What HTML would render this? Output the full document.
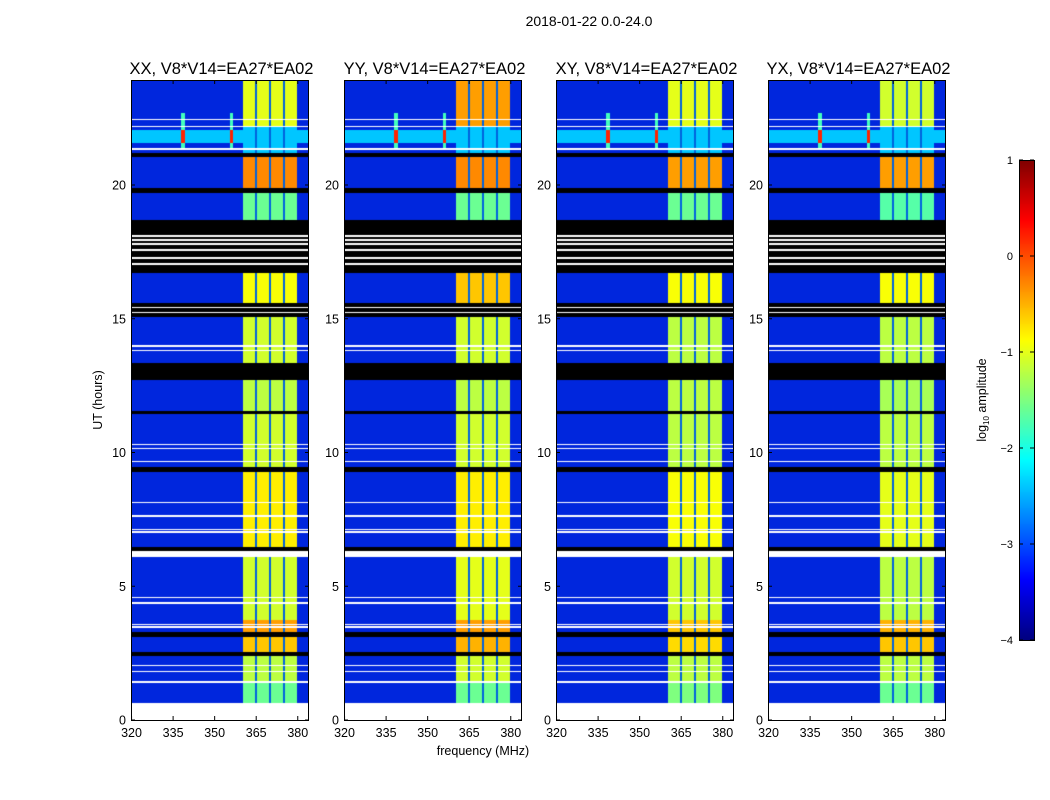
<!DOCTYPE html>
<html><head><meta charset="utf-8"><style>
body{margin:0;background:#fff;width:1050px;height:800px;overflow:hidden;font-family:"Liberation Sans",sans-serif}
#root{position:relative;width:1050px;height:800px}
canvas{position:absolute}
svg{position:absolute;left:0;top:0}
</style></head><body>
<div id="root">
<svg id="ov" width="1050" height="800"></svg>
</div>
<script>
// ---- data ----
const panelNames=["XX","YY","XY","YX"];
const freqTicks=[320,335,350,365,380];
const timeTicks=[0,5,10,15,20];
const cbTicks=[1,0,-1,-2,-3,-4];
// data segments: start hour, end hour
const segStart=[0.64,1.45,2.55,3.3,3.75,6.45,9.45,11.55,13.35,15.6,18.7,19.9,21.2,22.2];
const segEnd  =[1.4,2.4,3.1,3.75,6.1,9.27,11.45,12.7,15.07,16.7,19.7,21.05,22.15,23.93];
// band log-amplitude per segment for each panel
const bandXX=[-1.6,-1.2,-0.6,-0.4,-1.1,-0.8,-1.1,-1.2,-1.1,-0.9,-1.6,-0.3,-2.4,-1.0];
const bandYY=[-1.6,-1.1,-0.5,-0.4,-1.0,-0.8,-1.1,-1.2,-1.1,-0.6,-1.6,-0.3,-2.4,-0.4];
const bandXY=[-1.5,-1.2,-0.7,-0.6,-1.1,-0.9,-1.2,-1.2,-1.2,-0.9,-1.6,-0.4,-2.4,-1.0];
const bandYX=[-1.6,-1.2,-0.6,-0.5,-1.2,-1.0,-1.2,-1.3,-1.2,-0.9,-1.7,-0.4,-2.4,-1.1];
const bandLevels=[bandXX,bandYY,bandXY,bandYX];
const bgLevel=-3.15;
const rfiRowStart=21.57, rfiRowEnd=22.05, rfiRowLevel=-2.4;
const rfiFreqs=[338.6,356];
const subBandEdges=[360.3,365,370,375,379.6];
const whiteStart=[0,1.4,6.1,7.0,7.1,7.6,8.1,9.64,10.13,10.28,4.35,4.55,13.8,13.95,22.15,22.43,21.3,17.0,17.25,17.55,17.75,17.9,18.05,15.2,15.4,3.45,3.55,2.0,1.8];
const whiteEnd  =[0.64,1.45,6.3,7.05,7.15,7.65,8.15,9.68,10.17,10.32,4.4,4.6,13.85,14.0,22.2,22.47,21.4,17.07,17.32,17.62,17.82,17.97,18.12,15.27,15.45,3.5,3.6,2.05,1.85];

const panelLeft=[131,344,556,768], panelTop=80, panelW=177, panelH=640;
const fMin=319.8, fPerPx=1/2.77, hPerPx=1/26.75;
function xOf(i,f){return panelLeft[i]+(f-fMin)/fPerPx;}
function yOf(h){return 720-h/hPerPx;}
function jet(v){let t=(v+4)/5;t=Math.max(0,Math.min(1,t));
 const r=Math.max(0,Math.min(1,1.5-Math.abs(4*t-3))),g=Math.max(0,Math.min(1,1.5-Math.abs(4*t-2))),b=Math.max(0,Math.min(1,1.5-Math.abs(4*t-1)));
 return [r*255|0,g*255|0,b*255|0];}
function valueAt(p,f,h){
 for(let k=0;k<whiteStart.length;k++) if(h>=whiteStart[k]&&h<whiteEnd[k]) return null;
 let seg=-1;for(let k=0;k<segStart.length;k++) if(h>=segStart[k]&&h<segEnd[k]) seg=k;
 if(seg<0) return 'black';
 let v=bgLevel;
 if(h>=rfiRowStart&&h<rfiRowEnd) v=rfiRowLevel;
 for(const rf of rfiFreqs){ if(Math.abs(f-rf)<0.6 && h>21.3 && h<22.7) v=Math.max(v,(h>=rfiRowStart&&h<rfiRowEnd)?0.2:-1.8);}
 if(f>=subBandEdges[0]&&f<subBandEdges[4]){
  let edge=false;for(let k=1;k<4;k++) if(Math.abs(f-subBandEdges[k])<0.45) edge=true;
  v=edge?-2.8:bandLevels[p][seg];
 }
 return v;
}
const root=document.getElementById('root');
for(let p=0;p<4;p++){
 const c=document.createElement('canvas');c.width=panelW;c.height=panelH;
 c.style.left=panelLeft[p]+'px';c.style.top=panelTop+'px';
 
 
 const ctx=c.getContext('2d');const im=ctx.createImageData(panelW,panelH);
 for(let r=0;r<panelH;r++){const h=(720-(panelTop+r+0.5))*hPerPx;
  for(let q=0;q<panelW;q++){const f=fMin+(q+0.5)*fPerPx;const v=valueAt(p,f,h);
   let col=v===null?[255,255,255]:v==='black'?[0,0,0]:jet(v);
   if(v!==null&&v!=='black'&&v<=-2.7){col=[col[0]*0.85|0,col[1]*0.85|0,col[2]*0.87|0];}
   const o=(r*panelW+q)*4;im.data[o]=col[0];im.data[o+1]=col[1];im.data[o+2]=col[2];im.data[o+3]=255;}}
 ctx.putImageData(im,0,0);root.insertBefore(c,root.firstChild);
}
// colorbar
const cb=document.createElement('canvas');cb.width=15;cb.height=480;cb.style.left='1019px';cb.style.top='160px';


{const ctx=cb.getContext('2d');for(let r=0;r<480;r++){const v=1-5*(r+0.5)/480;const c=jet(v);ctx.fillStyle=`rgb(${c})`;ctx.fillRect(0,r,15,1);}}
root.insertBefore(cb,root.firstChild);
// overlay
const ov=document.getElementById('ov');const NS='http://www.w3.org/2000/svg';
function el(tag,attrs,txt){const e=document.createElementNS(NS,tag);for(const k in attrs)e.setAttribute(k,attrs[k]);if(txt!==undefined)e.textContent=txt;ov.appendChild(e);return e;}
let t=el('text',{x:589,y:26,'font-size':14,'text-anchor':'middle'},'2018-01-22 0.0-24.0');


for(let p=0;p<4;p++){
 const L=panelLeft[p];
 let fr=el('rect',{x:L+0.5,y:80.5,width:panelW,height:panelH,fill:'none',stroke:'#000'});
 
 
 let tt=el('text',{x:L+panelW/2+2,y:74,'font-size':16.5,'text-anchor':'middle'},panelNames[p]+', V8*V14=EA27*EA02');
 
 
 for(const f of freqTicks){const x=xOf(p,f);
  el('line',{x1:x,x2:x,y1:720,y2:716,stroke:'#000'});el('line',{x1:x,x2:x,y1:80,y2:84,stroke:'#000'});
  const lb=el('text',{x:x,y:737,'font-size':12.5,'text-anchor':'middle'},String(f));
  
  }
 for(const h of timeTicks){const y=yOf(h);
  el('line',{x1:L,x2:L+4,y1:y,y2:y,stroke:'#000'});el('line',{x1:L+panelW-3,x2:L+panelW+1,y1:y,y2:y,stroke:'#000'});
  const lb=el('text',{x:L-5,y:y+4.5,'font-size':12.5,'text-anchor':'end'},String(h));
  
  }
}
t=el('text',{x:483,y:755,'font-size':12.5,'text-anchor':'middle'},'frequency (MHz)');


t=el('text',{x:102,y:400,'font-size':12.5,'text-anchor':'middle',transform:'rotate(-90 102 400)'},'UT (hours)');


el('rect',{x:1019.5,y:160.5,width:15,height:480,fill:'none',stroke:'#000'});
for(const v of cbTicks){const y=160+(1-v)*96;
 el('line',{x1:1019,x2:1023,y1:y,y2:y,stroke:'#000'});el('line',{x1:1030,x2:1034,y1:y,y2:y,stroke:'#000'});
 const lb=el('text',{x:1013,y:y+4,'font-size':11,'text-anchor':'end'},v<0?'\u2212'+(-v):String(v));
 
 }
t=el('text',{x:986,y:400,'font-size':12.5,'text-anchor':'middle',transform:'rotate(-90 986 400)'});
t.innerHTML='log<tspan font-size="8" dy="3">10</tspan><tspan dy="-3"> amplitude</tspan>';


</script>
</body></html>
